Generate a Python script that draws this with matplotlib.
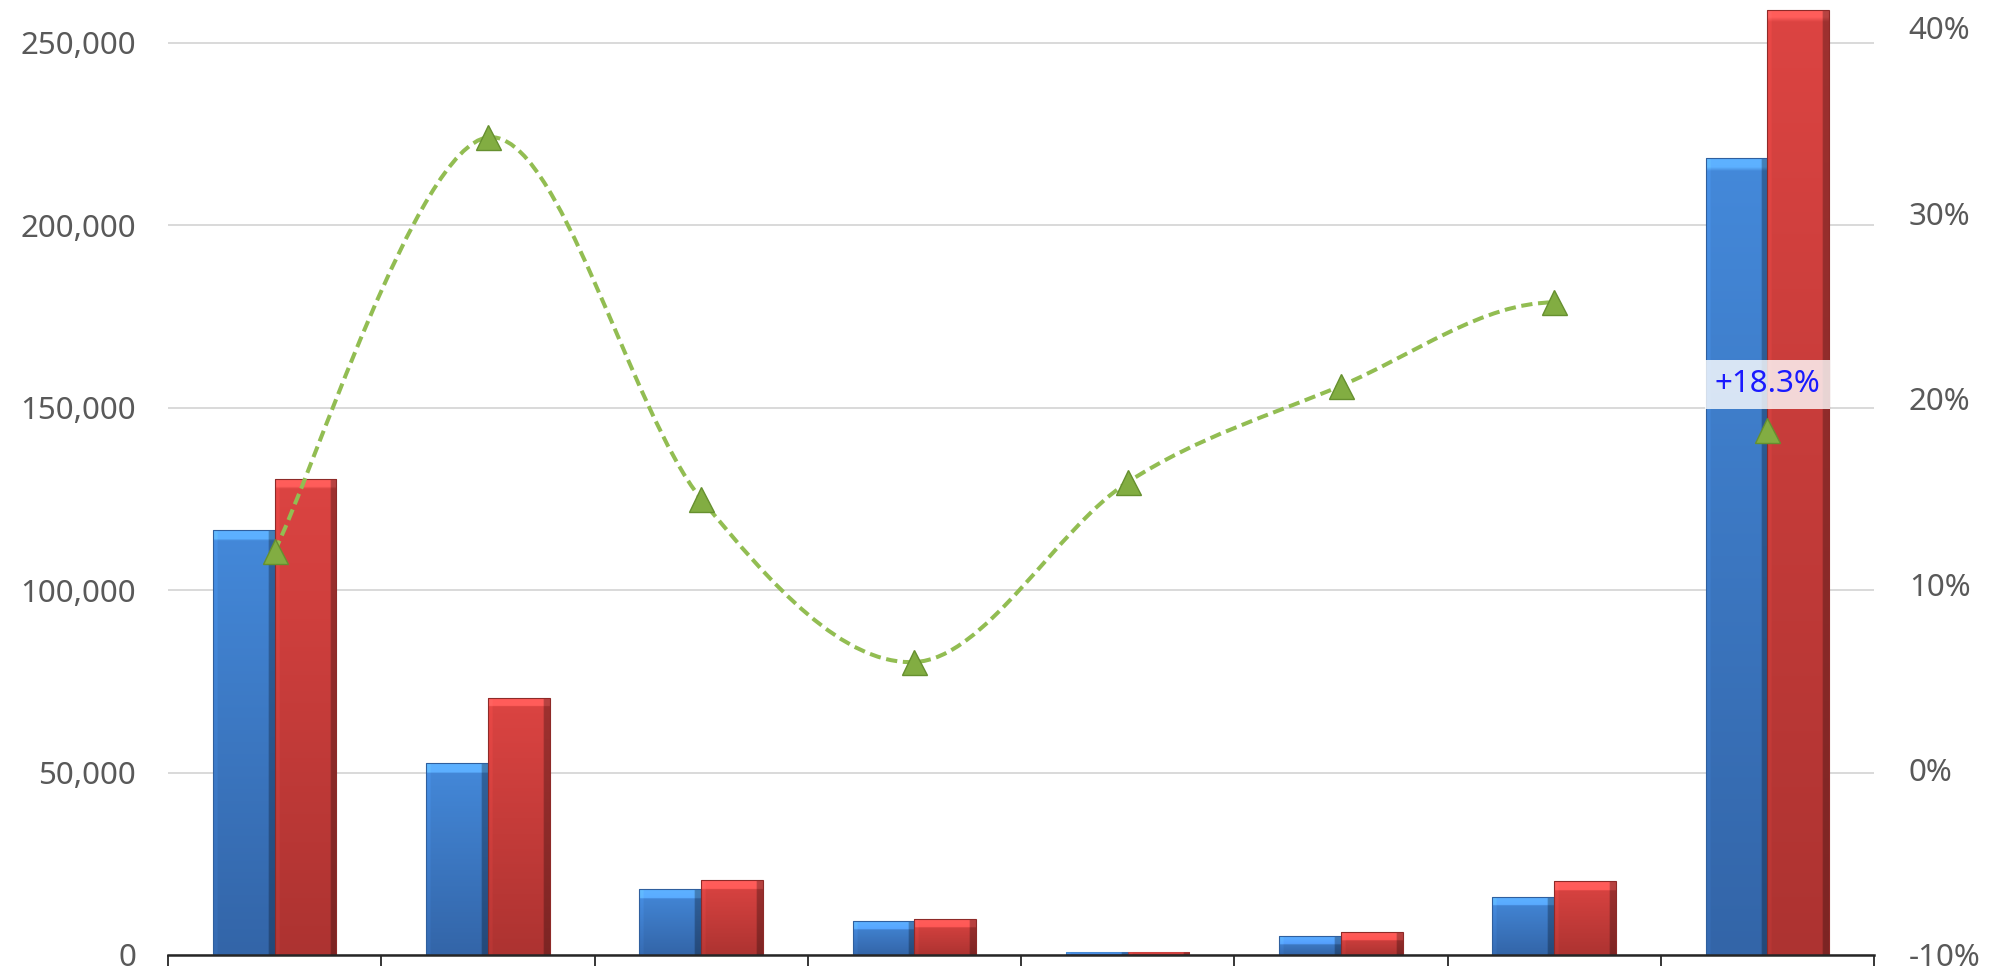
import numpy as np
import matplotlib
matplotlib.use('Agg')
import matplotlib.pyplot as plt
from matplotlib.path import Path
from matplotlib.patches import PathPatch
from matplotlib.ticker import FuncFormatter
from matplotlib.colors import to_rgb

plt.rcParams['font.family'] = ['Noto Sans', 'DejaVu Sans']

# values (no category labels are visible)
categories = ['1', '2', '3', '4', '5', '6', '7', 'Total']
prev_year = [116500, 52500, 18000, 9400, 800, 5300, 16000, 218500]
this_year = [130500, 70500, 20500, 10000, 920, 6400, 20200, 258900]
growth_pct = [11.8, 34.1, 14.6, 5.8, 15.5, 20.7, 25.2]   # smooth line, groups 1-7
total_pct = 18.3                                        # lone marker on the total
left_ticks = [0, 50000, 100000, 150000, 200000, 250000]
right_ticks = [-10, 0, 10, 20, 30, 40]

W, H = 1998, 966
fig = plt.figure(figsize=(W / 100, H / 100), dpi=100)
ax = fig.add_axes([168 / W, 11 / H, (1874 - 168) / W, 950 / H])
ax2 = ax.twinx()

ymax = 260300
x = np.arange(len(categories))
bw = 0.29

# bars: outline only, then a clipped gradient image gives the bevel look
def shade(bar, top, bottom):
    x0, y0 = bar.get_x(), bar.get_y()
    w, h = bar.get_width(), bar.get_height()
    if h <= 0:
        return
    rows, cols = 200, 40
    t = np.linspace(0, 1, rows)[:, None, None]
    img = np.array(to_rgb(bottom)) * (1 - t) + np.array(to_rgb(top)) * t
    img = np.repeat(img, cols, axis=1)
    px_h = h / ymax * 950
    band = min(9.0 / px_h, 0.6)
    img[t[:, 0, 0] > 1 - band] = np.clip(img[t[:, 0, 0] > 1 - band] * 1.22 + 0.04, 0, 1)
    img[:, :3] = img[:, :3] * 1.06
    img[:, -4:] = img[:, -4:] * 0.72
    img = np.clip(img, 0, 1)
    im = ax.imshow(img, origin='lower', extent=[x0, x0 + w, y0, y0 + h],
                   aspect='auto', zorder=2, interpolation='bilinear')
    im.set_clip_path(bar)

b1 = ax.bar(x - bw / 2, prev_year, bw, facecolor='none', edgecolor='#2f5f9e',
            linewidth=0.8, zorder=3)
b2 = ax.bar(x + bw / 2, this_year, bw, facecolor='none', edgecolor='#8e2a28',
            linewidth=0.8, zorder=3)
for b in b1:
    shade(b, '#4489da', '#3365a8')
for b in b2:
    shade(b, '#dc4442', '#ad3331')
b1[4].set_alpha(0.4)
b2[4].set_alpha(0.4)

ax.set_xlim(-0.5, len(categories) - 0.5)
ax.set_ylim(0, ymax)
ax.set_yticks(left_ticks)
ax.yaxis.set_major_formatter(FuncFormatter(lambda v, p: f'{v:,.0f}'))
ax.tick_params(axis='y', length=0, pad=23, labelsize=22.5, labelcolor='#595959')
ax.set_xticks(np.arange(-0.5, len(categories) + 0.5, 1))
ax.set_xticklabels([])
ax.tick_params(axis='x', direction='out', length=14, width=1.3, color='#262626')
ax.grid(axis='y', color='#d9d9d9', linewidth=1.4)
ax.set_axisbelow(True)
for s in ['top', 'left', 'right']:
    ax.spines[s].set_visible(False)
ax.spines['bottom'].set_color('#262626')
ax.spines['bottom'].set_linewidth(1.8)
ax.spines['bottom'].set_zorder(5)

# smooth dashed growth line (Bezier through the points, like Excel smoothing;
# the curve arrives level at its last point)
pts = np.column_stack([x[:len(growth_pct)], growth_pct]).astype(float)
verts = [tuple(pts[0])]
codes = [Path.MOVETO]
n = len(pts)
for i in range(n - 1):
    p0 = pts[i - 1] if i > 0 else pts[i]
    p1, p2 = pts[i], pts[i + 1]
    c1 = p1 + (p2 - p0) / 6
    if i + 2 < n:
        c2 = p2 - (pts[i + 2] - p1) / 6
    else:
        c2 = p2 - np.array([1 / 3, 0.0])
    verts += [tuple(c1), tuple(c2), tuple(p2)]
    codes += [Path.CURVE4] * 3
curve = PathPatch(Path(verts, codes), facecolor='none', edgecolor='#92bd52',
                  linewidth=2.9, linestyle=(0, (2.8, 1.4)), zorder=4)
ax2.add_patch(curve)
ax2.plot(x[:len(growth_pct)], growth_pct, linestyle='none', marker='^',
         markersize=18, markerfacecolor='#82ad42', markeredgecolor='#66902f',
         markeredgewidth=1, zorder=5)
ax2.plot([x[-1]], [total_pct], linestyle='none', marker='^', markersize=18,
         markerfacecolor='#82ad42', markeredgecolor='#66902f', markeredgewidth=1,
         zorder=5)
ax2.annotate(f'+{total_pct}%', xy=(x[-1], total_pct), xytext=(0, 33),
             textcoords='offset points', ha='center', va='center',
             fontsize=22.5, color='#1a1aff', zorder=6,
             bbox=dict(boxstyle='square,pad=0.3', fc='white', ec='none', alpha=0.8))

ax2.set_ylim(-9.906, 41.24)
ax2.set_yticks(right_ticks)
ax2.yaxis.set_major_formatter(FuncFormatter(lambda v, p: f'{v:.0f}%'))
ax2.tick_params(axis='y', length=0, pad=25, labelsize=22.5, labelcolor='#595959')
for s in ['top', 'left', 'right', 'bottom']:
    ax2.spines[s].set_visible(False)

fig.savefig('out.png', dpi=100)
